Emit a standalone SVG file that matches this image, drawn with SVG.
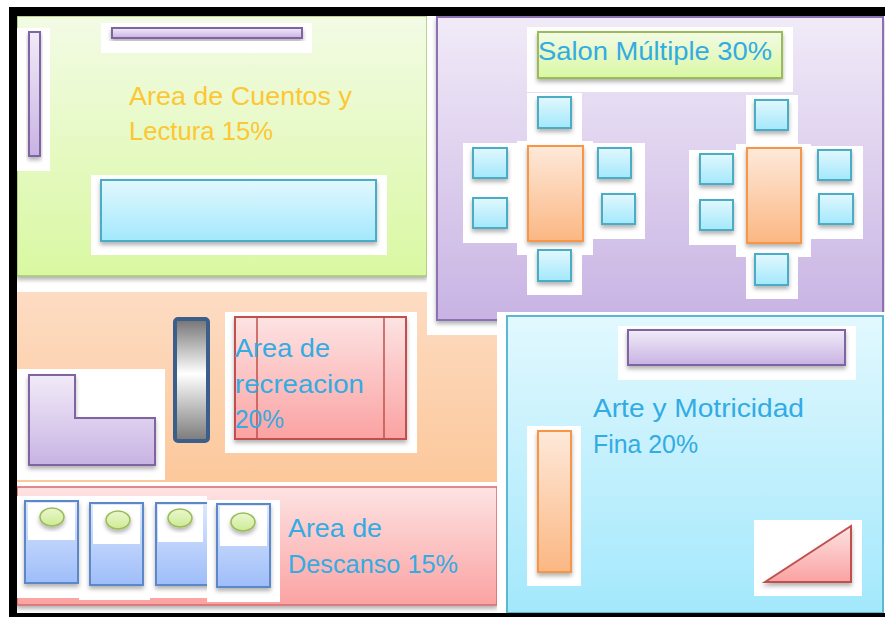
<svg xmlns="http://www.w3.org/2000/svg" width="885" height="617" viewBox="0 0 885 617">
<defs>
<linearGradient id="gGreen" x1="0" y1="0" x2="0" y2="1"><stop offset="0" stop-color="#f3fbe5"/><stop offset="1" stop-color="#d9f8a2"/></linearGradient>
<linearGradient id="gPurple" x1="0" y1="0" x2="0" y2="1"><stop offset="0" stop-color="#f1ebf8"/><stop offset="1" stop-color="#c8b3e3"/></linearGradient>
<linearGradient id="gOrangeArea" x1="0" y1="0" x2="0" y2="1"><stop offset="0" stop-color="#fddcc3"/><stop offset="1" stop-color="#fcc89b"/></linearGradient>
<linearGradient id="gRed" x1="0" y1="0" x2="0" y2="1"><stop offset="0" stop-color="#fde3e3"/><stop offset="1" stop-color="#fba2a2"/></linearGradient>
<linearGradient id="gCyan" x1="0" y1="0" x2="0" y2="1"><stop offset="0" stop-color="#e2f8fe"/><stop offset="1" stop-color="#a3e8fc"/></linearGradient>
<linearGradient id="gTable" x1="0" y1="0" x2="0" y2="1"><stop offset="0" stop-color="#fee9da"/><stop offset="1" stop-color="#fbb783"/></linearGradient>
<linearGradient id="gBed" x1="0" y1="0" x2="0" y2="1"><stop offset="0" stop-color="#dce8fd"/><stop offset="1" stop-color="#9ebdf9"/></linearGradient>
<linearGradient id="gGray" x1="0" y1="0" x2="0" y2="1"><stop offset="0" stop-color="#737373"/><stop offset="0.45" stop-color="#ffffff"/><stop offset="1" stop-color="#7a7a7a"/></linearGradient>
<linearGradient id="gPillow" x1="0" y1="0" x2="0" y2="1"><stop offset="0" stop-color="#eaf7cf"/><stop offset="1" stop-color="#cdeb93"/></linearGradient>
<filter id="sh" x="-20%" y="-20%" width="140%" height="150%"><feDropShadow dx="0" dy="3" stdDeviation="2" flood-color="#000" flood-opacity="0.3"/></filter>
</defs>
<style>
.wb{fill:#ffffff}
.txt{font-family:"Liberation Sans",Arial,sans-serif;font-size:26px}
.blue{fill:#33abe3}
.yellow{fill:#fdc733}
.chair{fill:url(#gCyan);stroke:#4bacc6;stroke-width:2;filter:url(#sh)}
.table{fill:url(#gTable);stroke:#f79646;stroke-width:2;filter:url(#sh)}
.purp{fill:url(#gPurple);stroke:#8064a2;stroke-width:2;filter:url(#sh)}
.redshape{fill:url(#gRed);stroke:#c0504d;stroke-width:2;filter:url(#sh)}
.bed{fill:url(#gBed);stroke:#5b87c9;stroke-width:2;filter:url(#sh)}
.pillow{fill:url(#gPillow);stroke:#9bbb59;stroke-width:1.5;filter:url(#sh)}
</style>
<rect x="0" y="0" width="885" height="617" fill="#ffffff"/>

<g id="area-cuentos">
<rect x="17" y="16" width="410" height="260" fill="url(#gGreen)" stroke="#a9c46c" stroke-width="1.5" filter="url(#sh)"/>
<rect class="wb" x="17" y="28" width="33" height="143"/>
<rect class="purp" x="29" y="32" width="11" height="124"/>
<rect class="wb" x="101" y="23" width="211" height="30"/>
<rect class="purp" x="112" y="28" width="190" height="10"/>
<rect class="wb" x="91" y="175" width="296" height="80"/>
<rect class="chair" x="101" y="180" width="275" height="61"/>
<text class="txt yellow" x="129" y="105" textLength="223" lengthAdjust="spacingAndGlyphs">Area de Cuentos y</text>
<text class="txt yellow" x="129" y="140" textLength="144" lengthAdjust="spacingAndGlyphs">Lectura 15%</text>
</g>

<g id="area-recreacion">
<rect x="17" y="292" width="480" height="190" fill="url(#gOrangeArea)"/>
<rect class="wb" x="17" y="369" width="148" height="111"/>
<path class="purp" d="M29 375 H75 V418 H155 V465 H29 Z"/>
<rect x="175" y="319" width="33" height="122" rx="3" fill="url(#gGray)" stroke="#3b5e8c" stroke-width="4"/>
<rect class="wb" x="225" y="312" width="192" height="141"/>
<rect class="redshape" x="235" y="317" width="171" height="122"/>
<line x1="257" y1="317" x2="257" y2="439" stroke="#c0504d" stroke-width="1.5"/>
<line x1="384" y1="317" x2="384" y2="439" stroke="#c0504d" stroke-width="1.5"/>
<text class="txt blue" x="235" y="357" textLength="95" lengthAdjust="spacingAndGlyphs">Area de</text>
<text class="txt blue" x="235" y="393" textLength="129" lengthAdjust="spacingAndGlyphs">recreacion</text>
<text class="txt blue" x="235" y="428" textLength="49" lengthAdjust="spacingAndGlyphs">20%</text>
</g>

<g id="area-descanso">
<rect x="17" y="487" width="480" height="118" fill="url(#gRed)" stroke="#d9696b" stroke-width="1.5" filter="url(#sh)"/>
<rect class="wb" x="17" y="496" width="190" height="102"/>
<rect class="wb" x="79" y="498" width="71" height="102"/>
<g id="bed1">
<rect class="bed" x="25" y="501" width="53" height="82"/>
<rect class="wb" x="28" y="503" width="47" height="37"/>
<ellipse class="pillow" cx="52" cy="517" rx="12" ry="9"/>
</g>
<g id="bed2">
<rect class="bed" x="90" y="503" width="53" height="82"/>
<rect class="wb" x="93" y="505" width="47" height="39"/>
<ellipse class="pillow" cx="118" cy="520" rx="12" ry="9"/>
</g>
<g id="bed3">
<rect class="bed" x="156" y="503" width="55" height="82"/>
<rect class="wb" x="158" y="505" width="45" height="37"/>
<ellipse class="pillow" cx="180" cy="518" rx="12" ry="9"/>
</g>
<rect class="wb" x="207" y="500" width="73" height="102"/>
<g id="bed4">
<rect class="bed" x="217" y="504" width="53" height="83"/>
<rect class="wb" x="220" y="506" width="47" height="40"/>
<ellipse class="pillow" cx="243" cy="522" rx="12" ry="9"/>
</g>
<text class="txt blue" x="288" y="537" textLength="94" lengthAdjust="spacingAndGlyphs">Area de</text>
<text class="txt blue" x="288" y="573" textLength="170" lengthAdjust="spacingAndGlyphs">Descanso 15%</text>
</g>

<g id="salon-multiple">
<rect class="wb" x="427" y="16" width="458" height="319"/>
<rect x="437" y="17" width="446" height="303" fill="url(#gPurple)" stroke="#8d72b3" stroke-width="2" filter="url(#sh)"/>
<rect class="wb" x="527" y="27" width="266" height="65"/>
<rect x="538" y="32" width="244" height="46" fill="url(#gGreen)" stroke="#9bbb59" stroke-width="2" filter="url(#sh)"/>
<text class="txt blue" x="538" y="60" textLength="234" lengthAdjust="spacingAndGlyphs">Salon Múltiple 30%</text>
<g id="table-group-1">
<rect class="wb" x="527" y="93" width="55" height="202"/>
<rect class="wb" x="517" y="141" width="76" height="114"/>
<rect class="wb" x="463" y="143" width="54" height="100"/>
<rect class="wb" x="593" y="143" width="52" height="96"/>
<rect class="chair" x="538" y="97" width="33" height="31"/>
<rect class="chair" x="473" y="148" width="34" height="30"/>
<rect class="chair" x="473" y="198" width="34" height="30"/>
<rect class="chair" x="598" y="148" width="33" height="30"/>
<rect class="chair" x="602" y="194" width="33" height="30"/>
<rect class="chair" x="538" y="250" width="33" height="31"/>
<rect class="table" x="528" y="146" width="55" height="95"/>
</g>
<g id="table-group-2">
<rect class="wb" x="746" y="95" width="52" height="204"/>
<rect class="wb" x="736" y="144" width="75" height="113"/>
<rect class="wb" x="689" y="150" width="47" height="95"/>
<rect class="wb" x="811" y="146" width="52" height="93"/>
<rect class="chair" x="755" y="100" width="33" height="30"/>
<rect class="chair" x="700" y="154" width="33" height="30"/>
<rect class="chair" x="700" y="200" width="33" height="30"/>
<rect class="chair" x="818" y="150" width="33" height="30"/>
<rect class="chair" x="819" y="194" width="34" height="30"/>
<rect class="chair" x="755" y="254" width="33" height="31"/>
<rect class="table" x="747" y="148" width="54" height="95"/>
</g>
</g>

<g id="arte-motricidad">
<rect class="wb" x="497" y="312" width="388" height="305"/>
<rect x="507" y="316" width="376" height="297" fill="url(#gCyan)" stroke="#5bb8d0" stroke-width="2"/>
<rect class="wb" x="618" y="326" width="238" height="54"/>
<rect class="purp" x="628" y="330" width="217" height="35"/>
<rect class="wb" x="527" y="426" width="54" height="160"/>
<rect class="table" x="538" y="431" width="33" height="141"/>
<rect class="wb" x="754" y="520" width="108" height="76"/>
<polygon class="redshape" points="765,582 851,526 851,582"/>
<text class="txt blue" x="593" y="417" textLength="211" lengthAdjust="spacingAndGlyphs">Arte y Motricidad</text>
<text class="txt blue" x="593" y="453" textLength="105" lengthAdjust="spacingAndGlyphs">Fina 20%</text>
</g>

<g id="frame" fill="#000000">
<rect x="9" y="7" width="8" height="610"/>
<rect x="9" y="7" width="876" height="9"/>
<rect x="9" y="613" width="876" height="4"/>
</g>
</svg>
